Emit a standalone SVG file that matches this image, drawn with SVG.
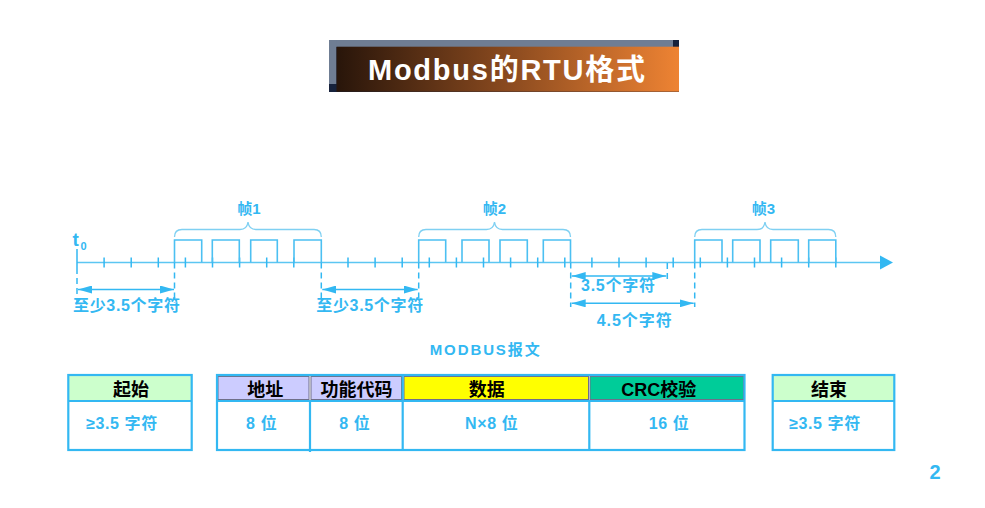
<svg xmlns="http://www.w3.org/2000/svg" width="985" height="508" viewBox="0 0 985 508">
<defs>
<linearGradient id="tg" x1="0" y1="0" x2="1" y2="0">
<stop offset="0" stop-color="#28150a"/>
<stop offset="0.5" stop-color="#8a4a1f"/>
<stop offset="1" stop-color="#ee8333"/>
</linearGradient>
<marker id="ah" viewBox="0 0 14 8" refX="14" refY="4" markerWidth="14" markerHeight="8" markerUnits="userSpaceOnUse" orient="auto-start-reverse">
<path d="M0,0 L14,4 L0,8 Z" fill="#33b8f2"/>
</marker>
</defs>
<style>
.bl{fill:#33b8f2;font-family:"Liberation Sans","Noto Sans CJK SC",sans-serif}
.b{font-weight:bold}
.hd{fill:#000;font-family:"Liberation Sans","Noto Sans CJK SC",sans-serif;font-weight:bold;font-size:18px}
.cv{font-size:16px;letter-spacing:0.6px}
.ax{stroke:#5cc6f2;stroke-width:1.5;fill:none}
.tk{stroke:#33b8f2;stroke-width:1.5}
.pl{stroke:#4cc0f2;stroke-width:1.6;fill:none}
.br{stroke:#7fd0f2;stroke-width:1.3;fill:none}
.ds{stroke:#33b8f2;stroke-width:1.5;stroke-dasharray:6 4;fill:none}
.dm{stroke:#33b8f2;stroke-width:1.5;fill:none}
.tb{stroke:#33b8f2;stroke-width:2.2;fill:none}
.hc{stroke:#6f6f8a;stroke-width:1}
</style>
<rect width="985" height="508" fill="#fff"/>

<g id="title">
<rect x="329" y="40" width="350" height="52" fill="#17223c"/>
<rect x="329" y="40" width="344" height="7" fill="#6f7d93"/>
<rect x="329" y="40" width="7.5" height="44" fill="#6f7d93"/>
<rect x="336.5" y="46.7" width="342.5" height="45" fill="url(#tg)"/>
<text x="506.5" y="80" text-anchor="middle" font-size="29" font-weight="bold" textLength="277" fill="#fff" font-family="Liberation Sans,Noto Sans CJK SC,sans-serif">Modbus的RTU格式</text>
</g>

<g id="timeline">
<path class="ax" d="M77,262.5 H881"/>
<path d="M880,255.5 L893,262.5 L880,269.5 Z" fill="#33b8f2"/>
<path class="tk" d="M77,249 V268 M104.1,257.5 V267.5 M131.2,257.5 V267.5 M158.3,257.5 V267.5 M185.4,257.5 V267.5 M212.5,257.5 V267.5 M239.6,257.5 V267.5 M266.7,257.5 V267.5 M293.8,257.5 V267.5 M348,257.5 V267.5 M375.1,257.5 V267.5 M402.2,257.5 V267.5 M429.3,257.5 V267.5 M456.4,257.5 V267.5 M483.5,257.5 V267.5 M510.6,257.5 V267.5 M537.7,257.5 V267.5 M564.8,257.5 V267.5 M591.9,257.5 V267.5 M619,257.5 V267.5 M646.1,257.5 V267.5 M673.2,257.5 V267.5 M700.3,257.5 V267.5 M727.4,257.5 V267.5 M754.5,257.5 V267.5 M781.6,257.5 V267.5 M808.7,257.5 V267.5 M835.8,257.5 V267.5"/>
<text class="bl b" x="72.5" y="245.5" font-size="19">t</text>
<text class="bl b" x="80.5" y="249.5" font-size="11">0</text>
</g>

<g id="frame1">
<path class="pl" d="M174.5,262.5 V240 H201.7 V262.5 M212.3,262.5 V240 H239.3 V262.5 M250.7,262.5 V240 H277.3 V262.5 M294,262.5 V240 H321.3 V262.5"/>
<path class="br" d="M174.5,237 Q174.5,229.5 182,229.5 H240 Q247,229.5 248,222 Q249,229.5 256,229.5 H314 Q321.3,229.5 321.3,237"/>
<text class="bl b" x="249" y="213.5" font-size="15" text-anchor="middle">帧1</text>
</g>

<g id="frame2">
<path class="pl" d="M418.7,262.5 V240 H445.7 V262.5 M462,262.5 V240 H489 V262.5 M500,262.5 V240 H527.3 V262.5 M543.3,262.5 V240 H570.5 V262.5"/>
<path class="br" d="M418.7,237 Q418.7,229.5 426,229.5 H486.5 Q493.5,229.5 494.5,222 Q495.5,229.5 502.5,229.5 H563 Q570.5,229.5 570.5,237"/>
<text class="bl b" x="494.5" y="213.5" font-size="15" text-anchor="middle">帧2</text>
</g>

<g id="frame3">
<path class="pl" d="M694.7,262.5 V240 H722 V262.5 M732.7,262.5 V240 H760 V262.5 M770.7,262.5 V240 H798.3 V262.5 M808.7,262.5 V240 H835.8 V262.5"/>
<path class="br" d="M694.7,237 Q694.7,229.5 702,229.5 H757 Q764,229.5 765,222 Q766,229.5 773,229.5 H828.5 Q835.8,229.5 835.8,237"/>
<text class="bl b" x="763.5" y="213.5" font-size="15" text-anchor="middle">帧3</text>
</g>

<g id="connectors">
<path class="ds" d="M77,268 V303 M174.5,262.5 V303 M321.3,262.5 V303 M418.7,262.5 V303 M570.7,262.5 V307 M667.3,263 V281 M694.7,262.5 V307"/>
<path class="dm" d="M78,289.5 H174" marker-start="url(#ah)" marker-end="url(#ah)"/>
<path class="dm" d="M322.3,289.5 H417.7" marker-start="url(#ah)" marker-end="url(#ah)"/>
<path class="dm" d="M571.7,276 H666.3" marker-start="url(#ah)" marker-end="url(#ah)"/>
<path class="dm" d="M571.7,303.3 H693.7" marker-start="url(#ah)" marker-end="url(#ah)"/>
</g>

<g id="dimlabels">
<text class="bl b" x="126.5" y="311" font-size="16" text-anchor="middle" textLength="107">至少3.5个字符</text>
<text class="bl b" x="369.7" y="311" font-size="16" text-anchor="middle" textLength="107">至少3.5个字符</text>
<text class="bl b" x="618" y="291" font-size="16" text-anchor="middle" textLength="74">3.5个字符</text>
<text class="bl b" x="634.2" y="326" font-size="16" text-anchor="middle" textLength="75">4.5个字符</text>
</g>

<g id="frame-label">
<text class="bl b" x="484.7" y="355" font-size="15" text-anchor="middle" textLength="110">MODBUS报文</text>
</g>

<g id="start">
<rect x="68.5" y="375" width="123" height="25" fill="#ccffcc"/>
<rect class="tb" x="68.3" y="375" width="123.4" height="75"/>
<path class="tb" d="M68.3,401 H191.7"/>
<text class="hd" x="131" y="396" text-anchor="middle">起始</text>
<text class="bl b cv" x="122" y="429" text-anchor="middle">≥3.5 字符</text>
</g>

<g id="message">
<rect class="hc" x="218" y="376.5" width="91" height="23" fill="#ccccff"/>
<rect class="hc" x="311" y="376.5" width="90.5" height="23" fill="#ccccff"/>
<rect class="hc" x="404" y="376.5" width="184.5" height="23" fill="#ffff00"/>
<rect class="hc" x="590" y="376.5" width="153.5" height="23" fill="#00cc99"/>
<rect class="tb" x="217" y="375" width="527.5" height="75"/>
<path class="tb" d="M217,401 H744.5 M310,401 V452 M402.7,375 V450 M589.3,401 V450"/>
<text class="hd" x="265.3" y="396" text-anchor="middle">地址</text>
<text class="hd" x="356.5" y="396" text-anchor="middle">功能代码</text>
<text class="hd" x="486.7" y="396" text-anchor="middle">数据</text>
<text class="hd" x="658.7" y="396" text-anchor="middle">CRC校验</text>
<text class="bl b cv" x="261.7" y="429" text-anchor="middle">8 位</text>
<text class="bl b cv" x="354.8" y="429" text-anchor="middle">8 位</text>
<text class="bl b cv" x="491.7" y="429" text-anchor="middle">N×8 位</text>
<text class="bl b cv" x="669" y="429" text-anchor="middle">16 位</text>
</g>

<g id="end">
<rect x="773" y="375" width="121" height="25" fill="#ccffcc"/>
<rect class="tb" x="772.7" y="375" width="121.6" height="75"/>
<path class="tb" d="M772.7,401 H894.3"/>
<text class="hd" x="829" y="396" text-anchor="middle">结束</text>
<text class="bl b cv" x="825" y="429" text-anchor="middle">≥3.5 字符</text>
</g>

<g id="page">
<text class="bl b" x="935" y="479" font-size="20" text-anchor="middle">2</text>
</g>
</svg>
